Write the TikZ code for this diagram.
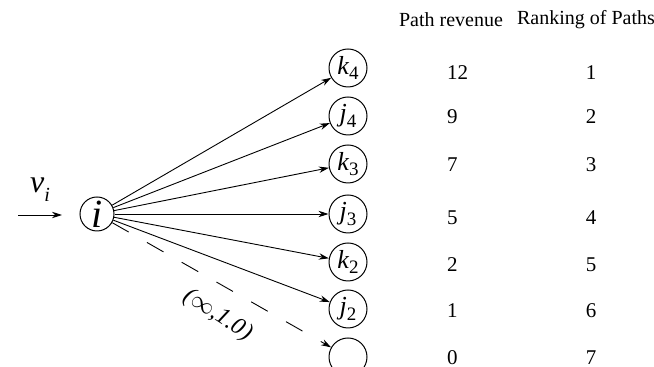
\documentclass[tikz,border=0pt]{standalone}
\usepackage{fontspec}
\setmainfont{Liberation Serif}
\usetikzlibrary{arrows.meta}
\newcommand\nlab[2]{\textit{#1}\raisebox{-0.45ex}{\fontsize{9.5}{9.5}\selectfont #2}}
\begin{document}
\begin{tikzpicture}[x=0.5pt,y=-0.5pt,
  nd/.style={draw,circle,minimum size=19pt,inner sep=0pt,line width=0.5pt,font=\fontsize{13}{13}\selectfont},
  arr/.style={-{Stealth[length=5pt,width=3.2pt]},line width=0.45pt},
  hd/.style={font=\fontsize{10}{12}\selectfont},
  num/.style={font=\fontsize{10.5}{12}\selectfont}]
\useasboundingbox (0,0) rectangle (654,367);
\node[nd,minimum size=17pt,font=\fontsize{20}{20}\selectfont\itshape] (i) at (97,214) {i};
\coordinate (s) at (18,215);
\coordinate (t) at (62,215);
\draw[arr] (s) -- (t);
\node[font=\fontsize{16}{16}\selectfont] (v) at (40,190) {\textit{v}\raisebox{-0.6ex}{\fontsize{10}{10}\selectfont\itshape i}};
\node[nd] (k4) at (348,68) {\nlab{k}{4}};
\node[nd] (j4) at (348,116) {\nlab{j}{4}};
\node[nd] (k3) at (348,164) {\nlab{k}{3}};
\node[nd] (j3) at (348,214) {\nlab{j}{3}};
\node[nd] (k2) at (348,262) {\nlab{k}{2}};
\node[nd] (j2) at (348,309) {\nlab{j}{2}};
\node[nd] (e) at (348,357) {};
\foreach \t in {k4,j4,k3,j3,k2,j2}{\draw[arr] (i) -- (\t);}
\draw[arr,dash pattern=on 9.5pt off 10.5pt] (i) -- (e);
\node[font=\fontsize{12}{12}\selectfont\itshape,rotate=-33] (lab) at (218,315) {($\infty$,1.0)};
\node[hd] (h1) at (451,20) {Path revenue};
\node[hd] (h2) at (586,20) {Ranking of Paths};
\foreach \y/\a/\b in {73/12/1,117/9/2,165/7/3,218/5/4,265/2/5,311/1/6,358/0/7}{
  \node[num,anchor=west] at (440,\y) {\a};
  \node[num] at (591,\y) {\b};
}
\end{tikzpicture}
\end{document}
